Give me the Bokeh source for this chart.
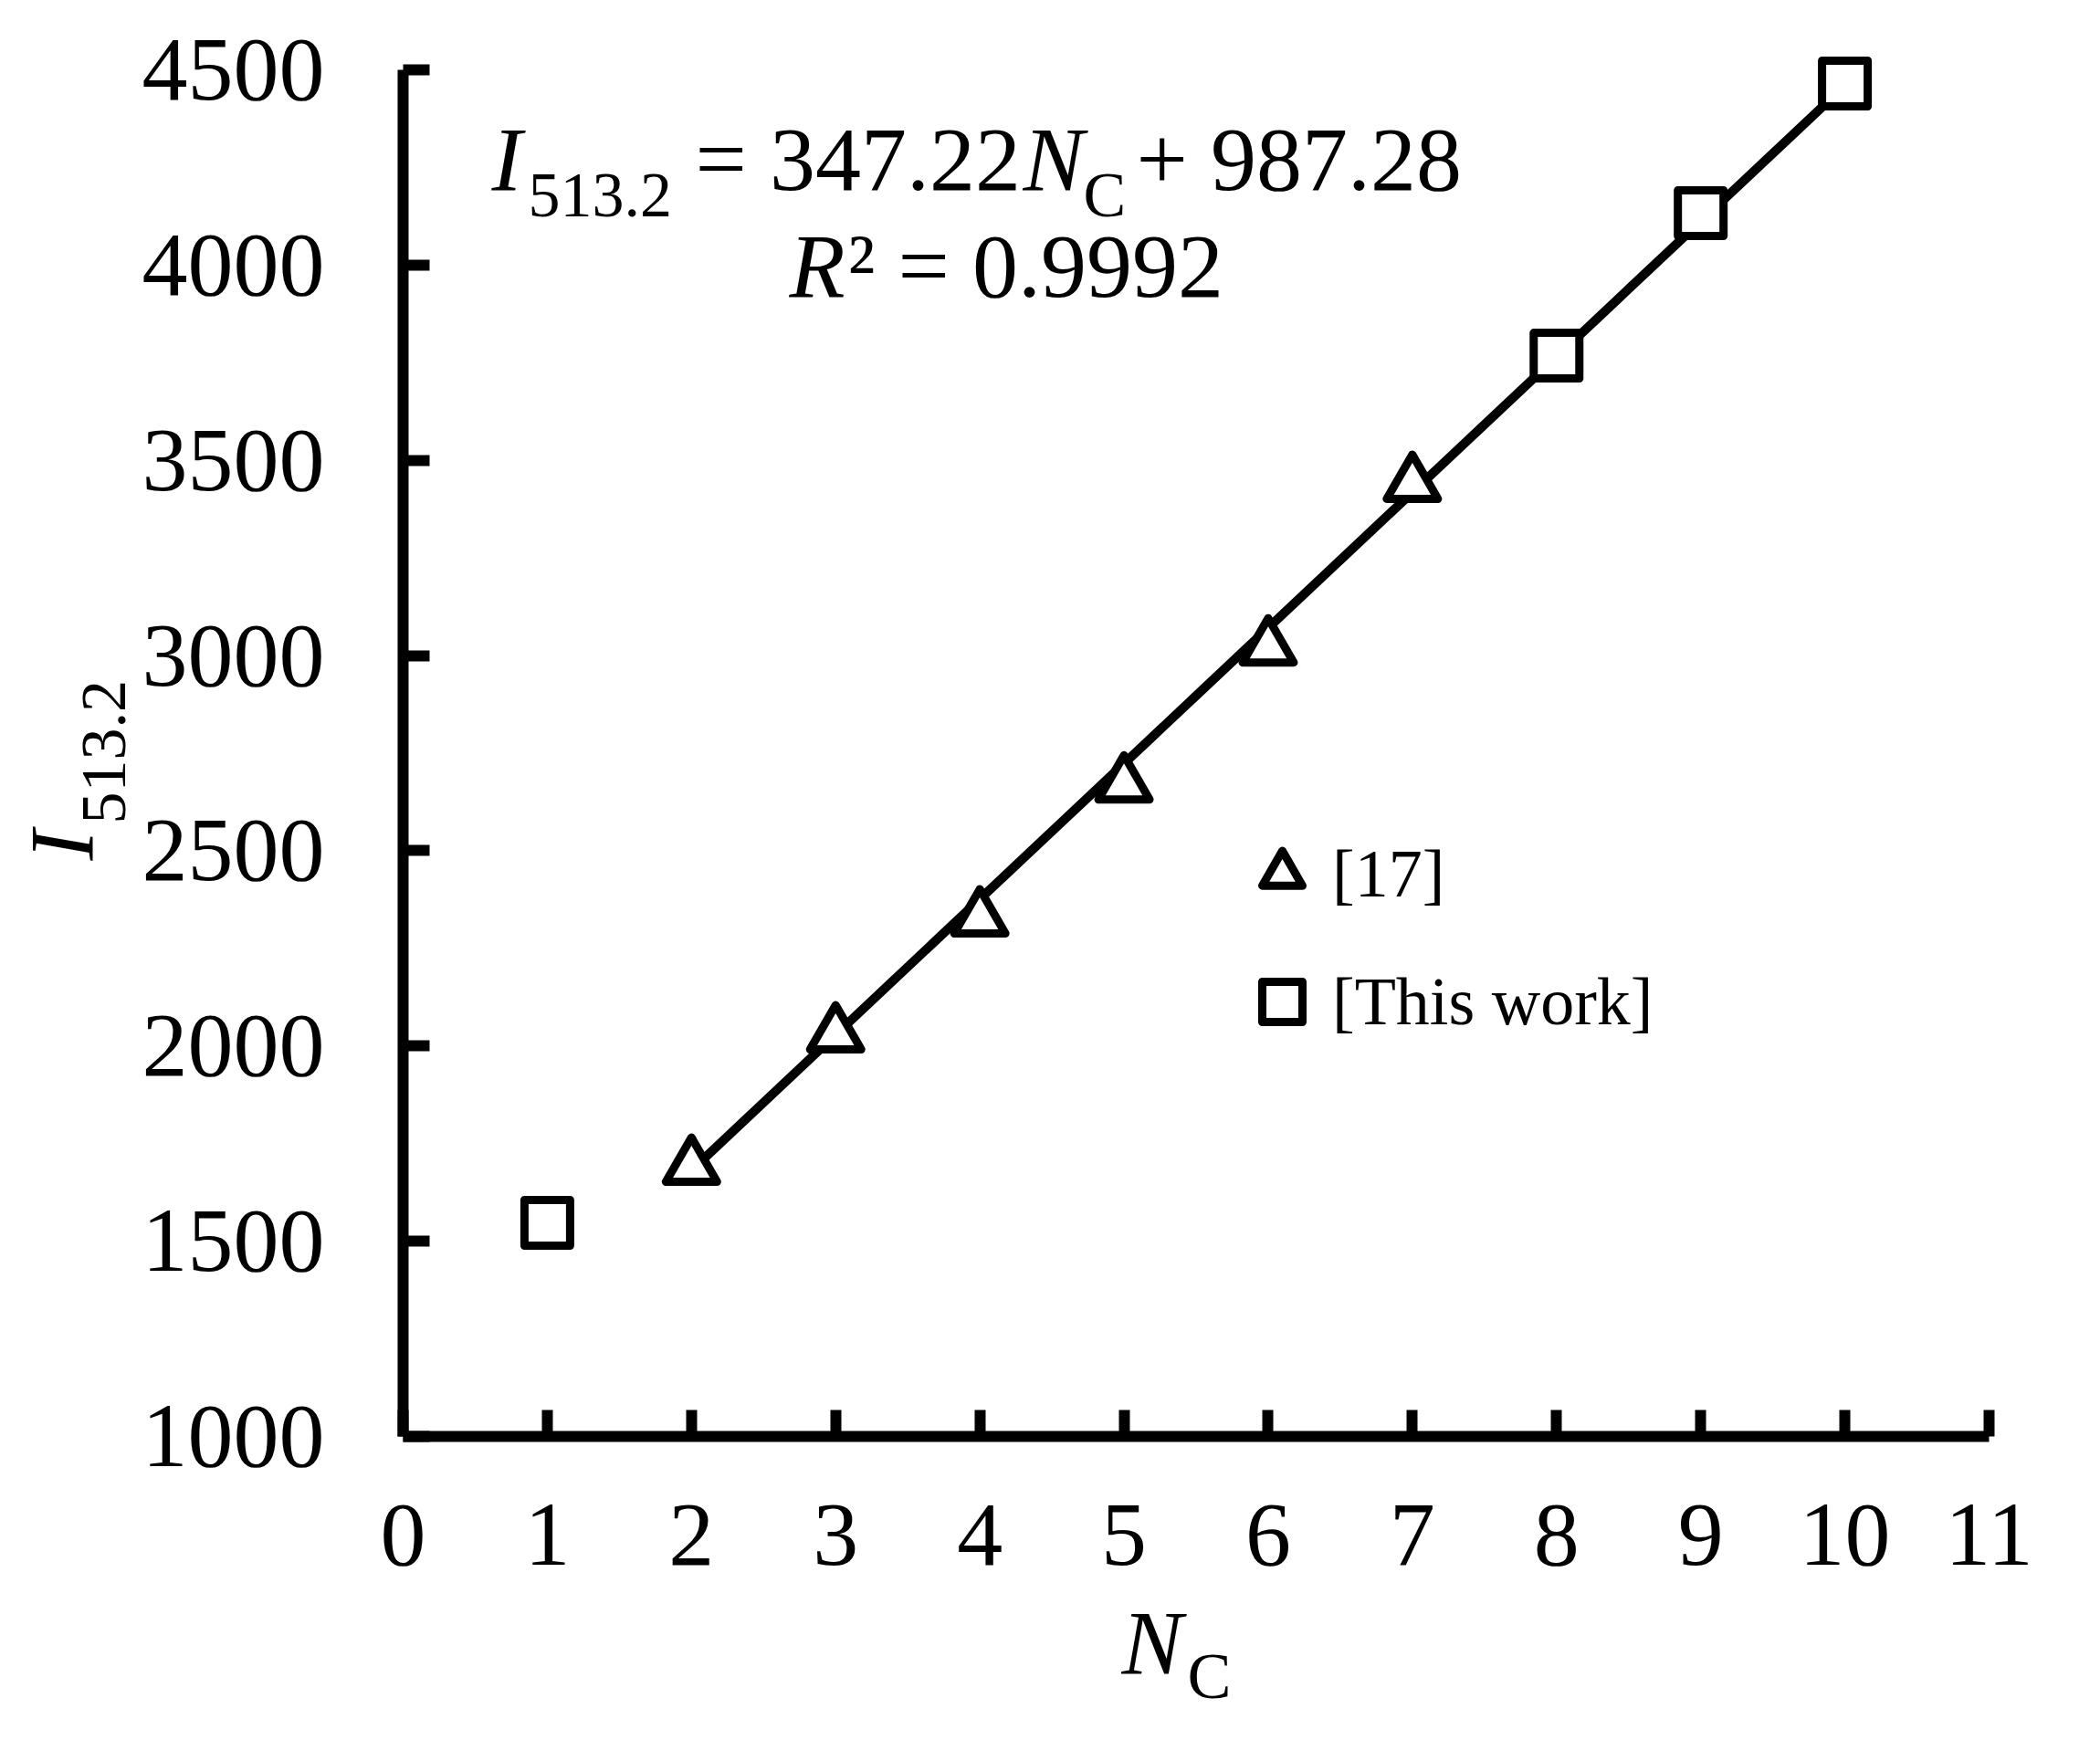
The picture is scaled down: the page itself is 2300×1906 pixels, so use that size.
import math

from bokeh.embed import file_html
from bokeh.models import FixedTicker, Label, Legend, LegendItem, Range1d
from bokeh.plotting import figure
from bokeh.resources import INLINE

# data
ref_nc = [2, 3, 4, 5, 6, 7]
ref_i = [1690, 2029, 2326, 2669, 3020, 3439]
work_nc = [1, 8, 9, 10]
work_i = [1547, 3768, 4133, 4465]

fit_slope = 347.22
fit_intercept = 987.28
fit_nc = [2, 10]
fit_i = [fit_slope * n + fit_intercept for n in fit_nc]

x_ticks = list(range(0, 12))
y_ticks = list(range(1000, 5000, 500))

FONT = "Liberation Serif"
W, H = 2300, 1906

# where the axes sit on the page: N=0 at x=441, N=11 at x=2178; I=1000 at y=1573, I=4500 at y=76
x_per_px = 11 / (2178 - 441)
y_per_px = 3500 / (1573 - 76)
x_lo = 0 - 441 * x_per_px
x_hi = x_lo + W * x_per_px
y_lo = 1000 - (H - 1573) * y_per_px
y_hi = y_lo + H * y_per_px

p = figure(width=W, height=H, min_border=0,
           x_range=Range1d(x_lo, x_hi), y_range=Range1d(y_lo, y_hi),
           output_backend="svg", toolbar_location=None, tools="")
p.grid.visible = False
p.outline_line_color = None
p.background_fill_color = "white"

for ax in (p.xaxis[0], p.yaxis[0]):
    ax.axis_line_width = 12
    ax.axis_line_color = "black"
    ax.major_tick_line_width = 12
    ax.major_tick_line_color = "black"
    ax.major_tick_in = 29
    ax.major_tick_out = 0
    ax.minor_tick_line_color = None
    ax.major_label_text_font = FONT
    ax.major_label_text_font_size = "100px"
    ax.major_label_text_color = "black"
p.xaxis.ticker = FixedTicker(ticks=x_ticks)
p.yaxis.ticker = FixedTicker(ticks=y_ticks)
p.xaxis.fixed_location = 1000
p.yaxis.fixed_location = 0
p.xaxis.bounds = (0, 11)
p.yaxis.bounds = (1000, 4500)
p.xaxis.major_label_standoff = 75
p.yaxis.major_label_standoff = 86

p.line(fit_nc, fit_i, line_color="black", line_width=10)
tri = p.scatter(ref_nc, ref_i, marker="triangle", size=56, fill_color="white",
                line_color="black", line_width=9, line_join="round")
sq = p.scatter(work_nc, work_i, marker="square", size=50, fill_color="white",
               line_color="black", line_width=9, line_join="round")

legend = Legend(items=[LegendItem(label="[17]", renderers=[tri]),
                       LegendItem(label="[This work]", renderers=[sq])],
                location=(1349, 754), glyph_width=110, glyph_height=110, spacing=30,
                label_standoff=0, padding=0, margin=0,
                label_text_font=FONT, label_text_font_size="74px", label_text_color="black",
                background_fill_alpha=0, border_line_alpha=0)
p.add_layout(legend)


# page pixel (text baseline start) -> data coordinates, for the text pieces
def lab(text, px, py, size, style="normal", rotated=False):
    shift = 0.41 * size
    if rotated:
        px -= shift
    else:
        py -= shift
    p.add_layout(Label(x=x_lo + px * x_per_px, y=y_hi - py * y_per_px,
                       text=text, text_font=FONT, text_font_size=f"{size}px",
                       text_font_style=style, text_color="black",
                       text_baseline="alphabetic", text_align="left",
                       angle=math.pi / 2 if rotated else 0.0))


# fit equation
lab("I", 538, 215, 100, "italic")
lab("513.2", 578, 242, 70)
lab("= 347.22", 761, 215, 100)
lab("N", 1120, 215, 100, "italic")
lab("C", 1186, 242, 70)
lab("+ 987.28", 1244, 215, 100)
lab("R", 864, 332, 100, "italic")
lab("² = 0.9992", 928, 332, 100)

# axis titles
lab("N", 1228, 1840, 100, "italic")
lab("C", 1300, 1865, 72)
lab("I", 108, 942, 100, "italic", rotated=True)
lab("513.2", 142, 902, 70, rotated=True)

open("out.html", "w").write(file_html(p, INLINE))
